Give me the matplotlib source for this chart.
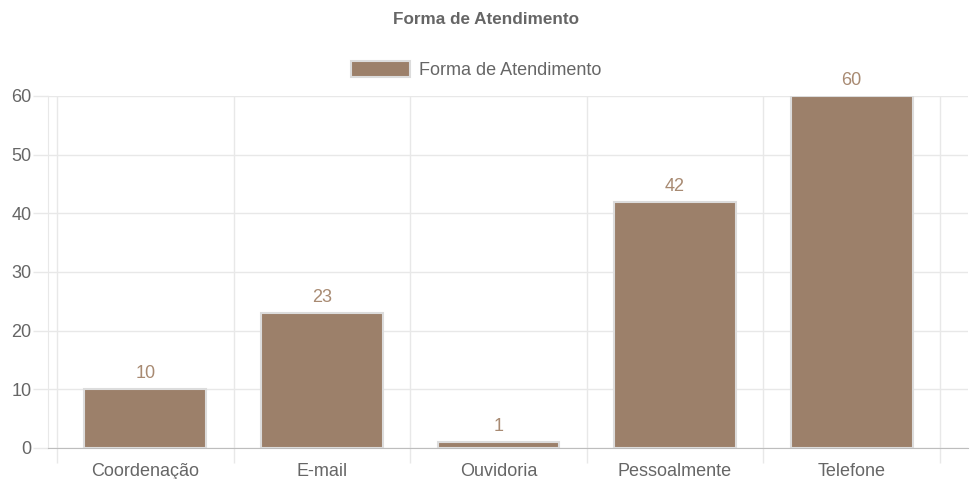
import matplotlib.pyplot as plt
import numpy as np

# dados do gráfico
categorias = ['Coordenação', 'E-mail', 'Ouvidoria', 'Pessoalmente', 'Telefone']
valores = [10, 23, 1, 42, 60]
titulo = 'Forma de Atendimento'
y_ticks = [0, 10, 20, 30, 40, 50, 60]

plt.rcParams['font.family'] = ['Liberation Sans', 'DejaVu Sans']

cor_barra = '#9c806a'
cor_borda = '#dcdcdc'
cor_texto = '#666666'
cor_valor = '#a88a72'
cor_grade = '#e8e8e8'

fig = plt.figure(figsize=(9.72, 4.79), dpi=100)
ax = fig.add_axes([48 / 972, 1 - 448 / 479, (968 - 48) / 972, (448 - 96) / 479])

x = np.arange(len(categorias))
barras = ax.bar(x, valores, width=0.69, color=cor_barra, edgecolor=cor_borda,
                linewidth=1.5, label=titulo, zorder=3)

# rótulos de valor acima das barras
for xi, v in zip(x, valores):
    ax.annotate(str(v), (xi, v), xytext=(0, 5), textcoords='offset points',
                ha='center', va='bottom', fontsize=13, color=cor_valor)

ax.set_xlim(-0.551, 4.659)
ax.set_ylim(0, 60)
ax.set_yticks(y_ticks)
ax.set_xticks(x)
ax.set_xticklabels(categorias)
ax.set_xticks(np.arange(-0.5, len(categorias)), minor=True)

# grade no estilo chart.js
ax.grid(axis='y', color=cor_grade, linewidth=1, zorder=0)
ax.grid(axis='x', which='minor', color=cor_grade, linewidth=1, zorder=0)
ax.tick_params(axis='y', length=11, width=1, color=cor_grade, labelsize=13,
               labelcolor=cor_texto, pad=1)
ax.tick_params(axis='x', which='major', length=0, labelsize=13,
               labelcolor=cor_texto, pad=11)
ax.tick_params(axis='x', which='minor', length=11, width=1, color=cor_grade)

for lado in ['top', 'right']:
    ax.spines[lado].set_visible(False)
ax.spines['left'].set_color(cor_grade)
ax.spines['bottom'].set_color('#bdbdbd')

fig.text(0.5, 1 - 20 / 479, titulo, ha='center', va='center',
         fontsize=12.3, fontweight='bold', color=cor_texto)
fig.legend(loc='center', bbox_to_anchor=(0.49, 1 - 70 / 479), frameon=False,
           fontsize=13, labelcolor=cor_texto, handlelength=3.3,
           handleheight=1.0, handletextpad=0.5)

fig.savefig('out.png', dpi=100)
